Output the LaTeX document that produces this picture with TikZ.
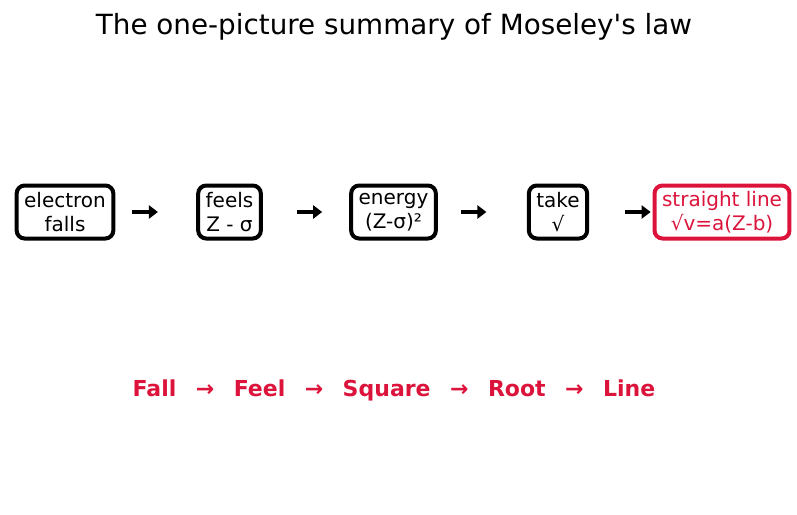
\documentclass[tikz,border=0pt]{standalone}
\usepackage{fontspec}
\setmainfont{DejaVu Sans}[Ligatures=TeXOff]
\usepackage{tikz}
\usetikzlibrary{positioning, arrows.meta, calc}
\definecolor{crimson}{RGB}{220,20,60}

\tikzset{
  stepbox/.style={draw=black, line width=4pt, rounded corners=8pt, align=center,
    inner xsep=7.5pt, minimum height=53pt, fill=white,
    font=\fontsize{20}{23.5}\selectfont},
  endbox/.style={stepbox, draw=crimson, text=crimson},
  flow/.style={line width=4pt, -{Triangle[length=9pt,width=13pt]}},
}
\newcommand{\gapsp}{\hspace{19.5pt}}

\begin{document}
\begin{tikzpicture}[x=1pt,y=-1pt]
    \useasboundingbox (0,0) rectangle (797,514);
    % ---- title
    \node[font=\fontsize{27.8}{33}\selectfont] (title) at (394,27) {The one-picture summary of Moseley's law};
    % ---- chain of steps
    \node[stepbox] (fall) at (65,212) {electron\\falls};
    \node[stepbox] (feel) at (229.5,212) {feels\\Z - σ};
    \node[stepbox] (square) at (393.5,212) {energy\\(Z-σ)²};
    \node[stepbox] (root) at (558,212) {take\\√};
    \node[endbox] (line) at (722,212) {straight line\\√v=a(Z-b)};
    \foreach \a/\b in {fall/feel,feel/square,square/root,root/line}
        \draw[flow] ($(\a.center)!0.41!(\b.center)$) -- ($(\a.center)!0.565!(\b.center)$);
    % ---- short form
    \node[font=\fontsize{22}{26}\selectfont\bfseries, text=crimson] (mnemonic) at (394,390)
        {Fall\gapsp→\gapsp Feel\gapsp→\gapsp Square\gapsp→\gapsp Root\gapsp→\gapsp Line};
\end{tikzpicture}
\end{document}
